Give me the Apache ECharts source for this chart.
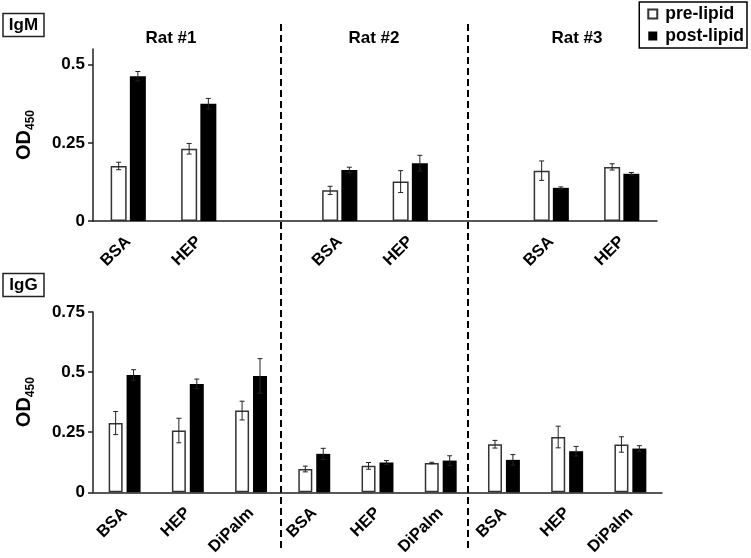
<!DOCTYPE html>
<html>
<head>
<meta charset="utf-8">
<script src="https://cdn.jsdelivr.net/npm/echarts@6/dist/echarts.min.js"></script>
<style>html,body{margin:0;padding:0;background:#fff}#c{width:751px;height:558px}</style>
</head>
<body>
<div id="c"></div>
<script>
// ---- data ----
const igmCats = ['BSA', 'HEP', '', 'BSA', 'HEP', '', 'BSA', 'HEP'];
const iggCats = ['BSA', 'HEP', 'DiPalm', 'BSA', 'HEP', 'DiPalm', 'BSA', 'HEP', 'DiPalm'];
const ratLabels = ['Rat #1', 'Rat #2', 'Rat #3'];
const seriesNames = ['pre-lipid', 'post-lipid'];
const panelLabels = ['IgM', 'IgG'];

const igmPre     = [0.176, 0.231, null, 0.098, 0.126, null, 0.161, 0.173];
const igmPreErr  = [0.012, 0.017, null, 0.013, 0.035, null, 0.031, 0.010];
const igmPost    = [0.463, 0.375, null, 0.163, 0.185, null, 0.106, 0.151];
const igmPostErr = [0.015, 0.017, null, 0.009, 0.025, null, 0.003, 0.004];

const iggPre     = [0.288, 0.257, 0.340, 0.097, 0.110, 0.122, 0.200, 0.230, 0.199];
const iggPreErr  = [0.048, 0.051, 0.039, 0.012, 0.014, 0.003, 0.016, 0.045, 0.032];
const iggPost    = [0.488, 0.451, 0.484, 0.160, 0.124, 0.132, 0.135, 0.171, 0.182];
const iggPostErr = [0.022, 0.020, 0.072, 0.023, 0.008, 0.020, 0.022, 0.020, 0.012];

const igmTicks = [0, 0.25, 0.5];
const iggTicks = [0, 0.25, 0.5, 0.75];
const igmMax = 0.55, iggMax = 0.75;

// ---- style ----
const FONT = 'Liberation Sans, Arial, sans-serif';
const topBarW = 16, topGap = 0.2;
const botBarW = 14, botGap = 0.28;

function errItems(vals, errs) {
  const out = [];
  vals.forEach((v, i) => { if (v != null) out.push([i, v, errs[i]]); });
  return out;
}
function errRender(offset) {
  return function (params, api) {
    const x = api.value(0), v = api.value(1), e = api.value(2);
    const t = api.coord([x, v + e]);
    const b = api.coord([x, v - e]);
    const cx = t[0] + offset;
    const st = { stroke: '#222', lineWidth: 1 };
    return {
      type: 'group',
      children: [
        { type: 'line', shape: { x1: cx, y1: t[1], x2: cx, y2: b[1] }, style: st },
        { type: 'line', shape: { x1: cx - 2.5, y1: t[1], x2: cx + 2.5, y2: t[1] }, style: st },
        { type: 'line', shape: { x1: cx - 2.5, y1: b[1], x2: cx + 2.5, y2: b[1] }, style: st }
      ]
    };
  };
}

const preStyle = { color: '#fff', borderColor: '#333', borderWidth: 1.5 };
const postStyle = { color: '#000', borderColor: '#000', borderWidth: 0 };

function yAxisFor(gi, max, ticks) {
  return {
    type: 'value', gridIndex: gi, min: 0, max: max, interval: 0.25,
    splitLine: { show: false },
    axisLine: { show: true, lineStyle: { color: '#222', width: 1.5 } },
    axisTick: { show: true, length: 5, lineStyle: { color: '#222', width: 1.5 }, customValues: ticks },
    axisLabel: { customValues: ticks, color: '#000', fontFamily: FONT, fontWeight: 'bold', fontSize: 17, margin: 8 },
    name: '{a|OD}{b|450}',
    nameLocation: 'middle', nameRotate: 90, nameGap: 56,
    nameTextStyle: {
      rich: {
        a: { fontFamily: FONT, fontWeight: 'bold', fontSize: 20, color: '#000', lineHeight: 22 },
        b: { fontFamily: FONT, fontWeight: 'bold', fontSize: 12, color: '#000', verticalAlign: 'bottom', padding: [14, 0, 0, 0] }
      }
    }
  };
}
function xAxisFor(gi, cats) {
  return {
    type: 'category', gridIndex: gi, data: cats,
    axisLine: { show: true, lineStyle: { color: '#222', width: 1.5 } },
    axisTick: { show: false },
    axisLabel: { rotate: 45, interval: 0, color: '#000', fontFamily: FONT, fontWeight: 'bold', fontSize: 16.5, margin: 18 }
  };
}

const chart = echarts.init(document.getElementById('c'), null, { renderer: 'canvas' });
const dash = { stroke: '#000', lineWidth: 2, lineDash: [7, 4] };
const titleFont = 'bold 17px ' + FONT;

chart.setOption({
  animation: false,
  backgroundColor: '#fff',
  legend: {
    data: seriesNames, orient: 'vertical', right: 4, top: 2,
    borderColor: '#000', borderWidth: 1.5, padding: [3, 3, 3, 8], itemGap: 4,
    itemWidth: 9, itemHeight: 9, icon: 'rect',
    textStyle: { fontFamily: FONT, fontWeight: 'bold', fontSize: 17.5, color: '#000', padding: [0, 0, 0, 3] }
  },
  grid: [
    { left: 93, right: 94, top: 49, height: 172 },
    { left: 93, right: 89, top: 312, height: 184 }
  ],
  xAxis: [xAxisFor(0, igmCats), xAxisFor(1, iggCats)],
  yAxis: [yAxisFor(0, igmMax, igmTicks), yAxisFor(1, iggMax, iggTicks)],
  series: [
    { name: seriesNames[0], type: 'bar', xAxisIndex: 0, yAxisIndex: 0, data: igmPre, barWidth: topBarW, barGap: (topGap * 100) + '%', itemStyle: preStyle },
    { name: seriesNames[1], type: 'bar', xAxisIndex: 0, yAxisIndex: 0, data: igmPost, barWidth: topBarW, itemStyle: postStyle },
    { name: seriesNames[0], type: 'bar', xAxisIndex: 1, yAxisIndex: 1, data: iggPre, barWidth: botBarW, barGap: (botGap * 100) + '%', itemStyle: preStyle },
    { name: seriesNames[1], type: 'bar', xAxisIndex: 1, yAxisIndex: 1, data: iggPost, barWidth: botBarW, itemStyle: postStyle },
    { type: 'custom', xAxisIndex: 0, yAxisIndex: 0, z: 5, data: errItems(igmPre, igmPreErr), renderItem: errRender(-(topBarW * (1 + topGap)) / 2) },
    { type: 'custom', xAxisIndex: 0, yAxisIndex: 0, z: 5, data: errItems(igmPost, igmPostErr), renderItem: errRender((topBarW * (1 + topGap)) / 2) },
    { type: 'custom', xAxisIndex: 1, yAxisIndex: 1, z: 5, data: errItems(iggPre, iggPreErr), renderItem: errRender(-(botBarW * (1 + botGap)) / 2) },
    { type: 'custom', xAxisIndex: 1, yAxisIndex: 1, z: 5, data: errItems(iggPost, iggPostErr), renderItem: errRender((botBarW * (1 + botGap)) / 2) }
  ],
  graphic: [
    { type: 'line', shape: { x1: 281, y1: 24, x2: 281, y2: 552 }, style: dash },
    { type: 'line', shape: { x1: 468, y1: 24, x2: 468, y2: 552 }, style: dash },
    { type: 'rect', shape: { x: 3, y: 13.5, width: 41, height: 23 }, style: { fill: '#fff', stroke: '#222', lineWidth: 1.5 } },
    { type: 'text', x: 23.5, y: 25, style: { text: panelLabels[0], font: titleFont, fill: '#000', align: 'center', verticalAlign: 'middle' } },
    { type: 'rect', shape: { x: 3, y: 273.5, width: 41, height: 23 }, style: { fill: '#fff', stroke: '#222', lineWidth: 1.5 } },
    { type: 'text', x: 23.5, y: 285, style: { text: panelLabels[1], font: titleFont, fill: '#000', align: 'center', verticalAlign: 'middle' } },
    { type: 'text', x: 171, y: 38, style: { text: ratLabels[0], font: titleFont, fill: '#000', align: 'center', verticalAlign: 'middle' } },
    { type: 'text', x: 374, y: 38, style: { text: ratLabels[1], font: titleFont, fill: '#000', align: 'center', verticalAlign: 'middle' } },
    { type: 'text', x: 577, y: 38, style: { text: ratLabels[2], font: titleFont, fill: '#000', align: 'center', verticalAlign: 'middle' } }
  ]
});
</script>
</body>
</html>
